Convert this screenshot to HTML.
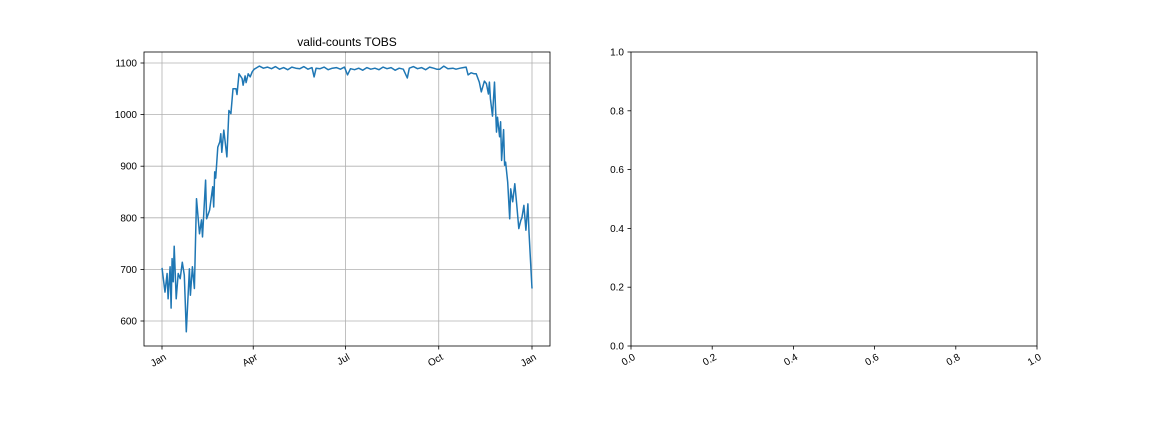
<!DOCTYPE html>
<html><head><meta charset="utf-8"><style>
body{margin:0;background:#fff;}
svg{display:block;font-family:"Liberation Sans","DejaVu Sans",sans-serif;}
</style></head><body>
<svg id="fig" width="1152" height="432" viewBox="0 0 1152 432" xmlns="http://www.w3.org/2000/svg">
<rect width="1152" height="432" fill="#fff"/>
<g id="left"></g>
<g id="right"></g>
</svg>
<script>
const days=[0,3,5,6,8,9,10,11,12,14,16,18,20,22,24,27,28,30,32,34,37,39,40,43,44,47,50,51,52,53,55,57,58,59,61,64,66,68,70,73,74,76,79,80,82,83,85,87,89,91,96,100,104,108,112,116,120,124,128,132,136,140,144,148,150,152,156,160,164,168,172,176,180,183,186,190,194,198,202,206,210,214,218,222,226,230,234,238,242,244,248,252,256,260,264,268,271,274,278,282,287,290,294,297,300,302,305,308,310,313,315,318,320,322,323,324,326,328,330,331,333,334,335,337,338,339,341,343,344,346,348,350,352,354,355,357,359,361,362,365];
const counts=[703,656,692,643,705,625,721,676,745,643,692,682,714,689,579,701,650,705,663,837,769,796,763,873,798,815,860,821,889,877,937,947,963,927,970,918,1008,1002,1050,1050,1039,1079,1070,1057,1075,1062,1079,1073,1083,1088,1094,1090,1092,1089,1093,1088,1091,1087,1092,1090,1089,1093,1088,1091,1073,1090,1089,1092,1087,1090,1091,1088,1092,1077,1089,1087,1090,1086,1091,1088,1090,1087,1092,1089,1091,1086,1090,1088,1071,1090,1093,1089,1091,1087,1092,1090,1088,1088,1094,1089,1090,1088,1090,1091,1092,1077,1081,1079,1079,1063,1044,1065,1060,1040,1063,1031,997,1063,966,995,957,986,911,971,902,908,869,798,856,831,866,824,779,795,800,824,776,827,772,663];
const yTicks=[600,700,800,900,1000,1100];
const xTickDays=[0,90,181,273,365];
const xTickLabels=['Jan','Apr','Jul','Oct','Jan'];
const rTicks=[0,0.2,0.4,0.6,0.8,1.0];
const rTickLabels=['0.0','0.2','0.4','0.6','0.8','1.0'];

const NS='http://www.w3.org/2000/svg';
function mk(p,t,a){const e=document.createElementNS(NS,t);for(const k in a)e.setAttribute(k,a[k]);p.appendChild(e);return e;}
const L=document.getElementById('left'),R=document.getElementById('right');
const X=d=>162+d*(370/365);
const Y=v=>63+(1100-v)*0.516;
yTicks.forEach(v=>{const g=mk(L,'line',{x1:144,x2:550,y1:Y(v),y2:Y(v),stroke:'#b0b0b0','stroke-width':0.8});

mk(L,'line',{x1:140.5,x2:144,y1:Y(v),y2:Y(v),stroke:'#000','stroke-width':0.8});
const t=mk(L,'text',{x:137,y:Y(v)+3.5,'text-anchor':'end','font-size':10});t.textContent=v;
});
xTickDays.forEach((d,i)=>{const g=mk(L,'line',{x1:X(d),x2:X(d),y1:52,y2:346,stroke:'#b0b0b0','stroke-width':0.8});

mk(L,'line',{x1:X(d),x2:X(d),y1:346,y2:349.5,stroke:'#000','stroke-width':0.8});
const ax=X(d)+1,ay=352;
const t=mk(L,'text',{x:ax,y:ay+8,'text-anchor':'end','font-size':10,transform:`rotate(-30 ${ax} ${ay})`});t.textContent=xTickLabels[i];
});
const pts=days.map((d,i)=>X(d).toFixed(1)+','+Y(counts[i]).toFixed(1)).join(' ');
const ln=mk(L,'polyline',{points:pts,fill:'none',stroke:'#1f77b4','stroke-width':1.5,'stroke-linejoin':'round'});

const f=mk(L,'rect',{x:144,y:52,width:406,height:294,fill:'none',stroke:'#000','stroke-width':0.8});

const ti=mk(L,'text',{x:347,y:46,'text-anchor':'middle','font-size':12});ti.textContent='valid-counts TOBS';

const RX=v=>631+v*406,RY=v=>346-v*294;
rTicks.forEach((v,i)=>{mk(R,'line',{x1:627.5,x2:631,y1:RY(v),y2:RY(v),stroke:'#000','stroke-width':0.8});
const t=mk(R,'text',{x:624,y:RY(v)+3.5,'text-anchor':'end','font-size':10});t.textContent=rTickLabels[i];

mk(R,'line',{x1:RX(v),x2:RX(v),y1:346,y2:349.5,stroke:'#000','stroke-width':0.8});
const ax=RX(v)+1,ay=352;
const u=mk(R,'text',{x:ax,y:ay+8,'text-anchor':'end','font-size':10,transform:`rotate(-30 ${ax} ${ay})`});u.textContent=rTickLabels[i];
});
const rf=mk(R,'rect',{x:631,y:52,width:406,height:294,fill:'none',stroke:'#000','stroke-width':0.8});

</script>
</body></html>
